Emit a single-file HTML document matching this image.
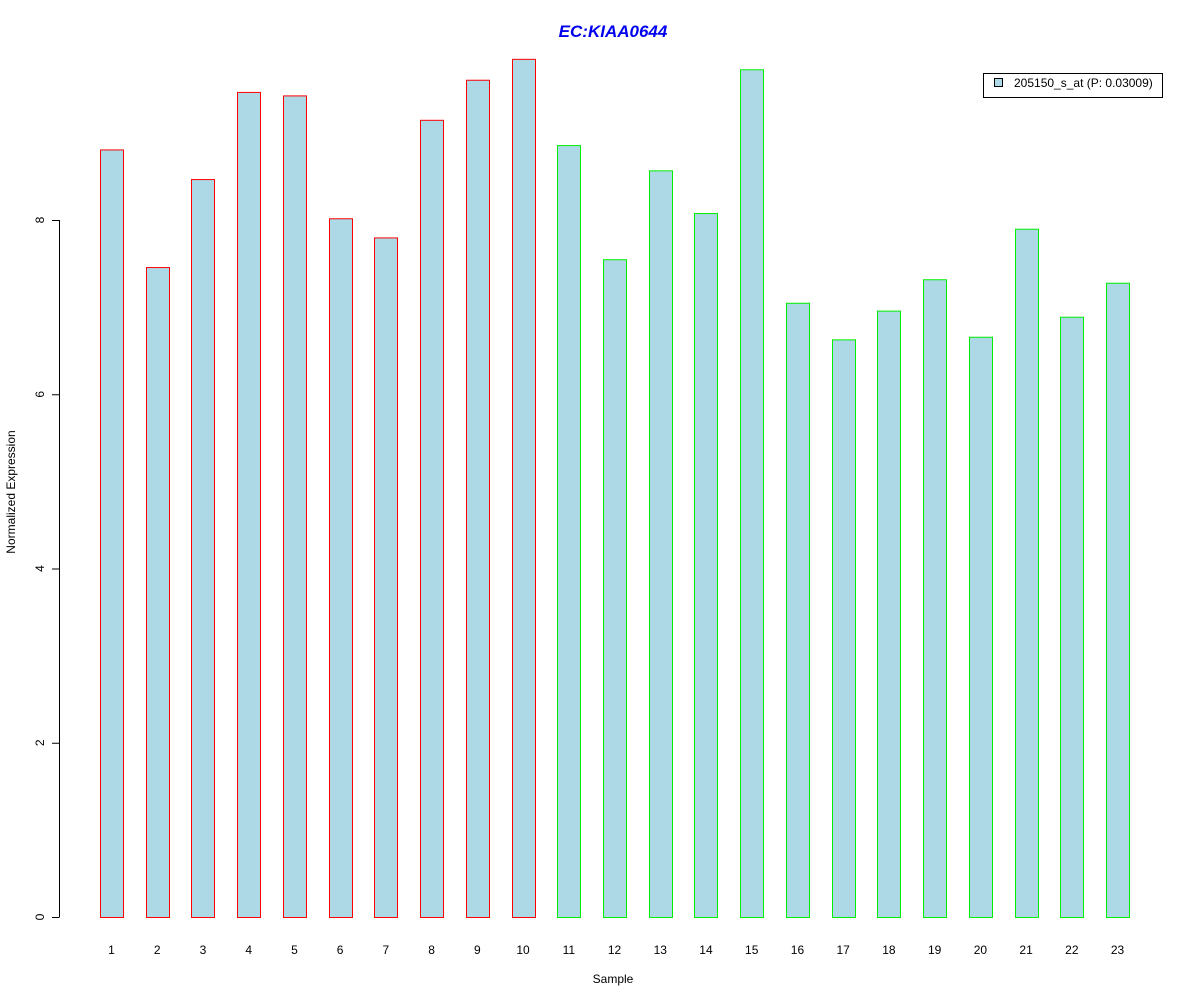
<!DOCTYPE html>
<html><head><meta charset="utf-8"><style>body{margin:0;background:#fff}svg{display:block}text{font-family:"Liberation Sans",sans-serif}</style></head>
<body>
<svg id="chart" width="1200" height="1000" xmlns="http://www.w3.org/2000/svg">
<text x="613" y="37" text-anchor="middle" font-size="17" font-weight="bold" font-style="italic" fill="#0000ee">EC:KIAA0644</text>
<text x="613" y="983" text-anchor="middle" font-size="12">Sample</text>
<text transform="translate(15,492) rotate(-90)" text-anchor="middle" font-size="12">Normalized Expression</text>
<g id="yaxis"></g>
<g id="bars"></g>
<g id="xlabels"></g>
<g>
<rect x="983.5" y="73.5" width="179" height="24" fill="#fff" stroke="#000"/>
<rect x="994.5" y="78.5" width="8" height="8" fill="#add8e6" stroke="#000"/>
<text x="1014" y="87" font-size="12">205150_s_at (P: 0.03009)</text>
</g>
</svg>
<script>
const categories=["1","2","3","4","5","6","7","8","9","10","11","12","13","14","15","16","17","18","19","20","21","22","23"];
const values=[8.81,7.46,8.47,9.47,9.43,8.02,7.80,9.15,9.61,9.85,8.86,7.55,8.57,8.08,9.73,7.05,6.63,6.96,7.32,6.66,7.90,6.89,7.28];
const groups=["r","r","r","r","r","r","r","r","r","r","g","g","g","g","g","g","g","g","g","g","g","g","g"];
const yTicks=[0,2,4,6,8];
const NS="http://www.w3.org/2000/svg";
const y=v=>917-v*87.125;
const xc=i=>111.5+i*45.73;
function mk(tag,attrs,parent){const e=document.createElementNS(NS,tag);for(const k in attrs)e.setAttribute(k,attrs[k]);parent.appendChild(e);return e;}
const ya=document.getElementById('yaxis');
mk('line',{x1:59.5,x2:59.5,y1:y(0),y2:y(8),stroke:'#000'},ya);
yTicks.forEach(t=>{
 mk('line',{x1:52,x2:59.5,y1:y(t)+0.5,y2:y(t)+0.5,stroke:'#000'},ya);
 const tx=mk('text',{transform:`translate(44,${y(t)}) rotate(-90)`,'text-anchor':'middle','font-size':12},ya);
 
 
 tx.textContent=t;
});
const bg=document.getElementById('bars'),xl=document.getElementById('xlabels');
values.forEach((v,i)=>{
 const r=mk('rect',{x:Math.round(xc(i)-11.5)+0.5,y:y(v)+0.5,width:23,height:y(0)-y(v),fill:'#add8e6',stroke:groups[i]==='r'?'#ff0000':'#00ee00'},bg);
 
 
 const t=mk('text',{x:xc(i),y:954,'text-anchor':'middle','font-size':12},xl);
 
 
 t.textContent=categories[i];
});
</script>
</body></html>
